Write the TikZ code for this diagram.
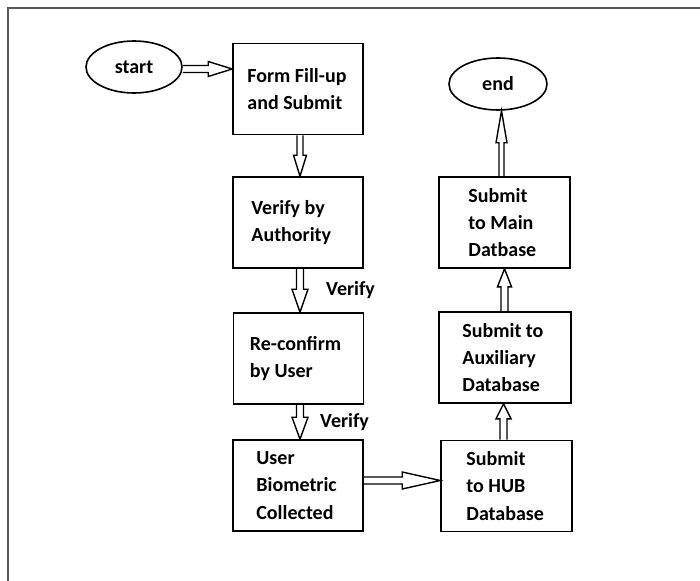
\documentclass[tikz,border=0pt]{standalone}
\usepackage{fontspec}
\setmainfont{Carlito}
\usetikzlibrary{calc,shapes.geometric}
\newcommand{\blockarr}[5]{% from, to, shaft half-width, head half-width, head length
  \path ($(#2)!#5!(#1)$) coordinate (hb);
  \draw[arrowline] ($(#1)!#3!90:(#2)$) -- ($(hb)!#3!90:(#2)$) -- ($(hb)!#4!90:(#2)$) -- (#2)
     -- ($(hb)!#4!-90:(#2)$) -- ($(hb)!#3!-90:(#2)$) -- ($(#1)!#3!-90:(#2)$);
}
\tikzset{
  box/.style={draw=black, line width=1.6pt, rectangle, minimum width=130pt, minimum height=91pt, inner sep=0pt},
  oval/.style={draw=black, line width=1.6pt, ellipse, minimum width=96pt, minimum height=52pt, inner sep=0pt, font=\fontsize{20}{27}\selectfont\bfseries},
  txt/.style={inner sep=0pt, align=left, font=\fontsize{20}{27.3}\selectfont\bfseries, text=black},
  arrowline/.style={draw=black, line width=1.4pt, line join=miter},
}
\begin{document}
\begin{tikzpicture}[x=1pt,y=-1pt]
\useasboundingbox (0,0) rectangle (700,580);
% frame
\draw[line width=2pt, draw=black!65] (8,581) -- (8,8) -- (701,8);

\node[oval] (start) at (134,67) {start};
\node[oval, minimum width=98pt] (end) at (498,84) {end};

\node[box, label={[txt,anchor=west,xshift=15pt]west:Form Fill-up\\and Submit}] (form) at (298,89) {};
\node[box, label={[txt,anchor=west,xshift=19pt]west:Verify by\\Authority}] (verify) at (298,222.5) {};
\node[box, label={[txt,anchor=west,xshift=17pt]west:Re-confirm\\by User}] (reconf) at (298.5,358.5) {};
\node[box, label={[txt,anchor=west,xshift=24pt]west:User\\Biometric\\Collected}] (bio) at (298,485.5) {};
\node[box, minimum width=131pt, label={[txt,anchor=west,xshift=26pt]west:Submit\\to HUB\\Database}] (hub) at (506.5,486) {};
\node[box, minimum width=132pt, label={[txt,anchor=west,xshift=24pt]west:Submit to\\Auxiliary\\Database}] (aux) at (505,357.5) {};
\node[box, minimum width=131pt, label={[txt,anchor=west,xshift=30pt]west:Submit\\to Main\\Datbase}] (main) at (504.5,222.5) {};

\node[txt, anchor=west] (v1) at (326,290) {Verify};
\node[txt, anchor=west] (v2) at (320,422) {Verify};

% connectors
\coordinate (a1s) at ($(start.east)+(0,2)$);
\coordinate (a1e) at (a1s -| form.west);
\blockarr{a1s}{a1e}{3.5pt}{7.5pt}{24pt}

\coordinate (a2s) at ($(form.south)+(2,0)$);
\coordinate (a2e) at ($(verify.north)+(2,0)$);
\blockarr{a2s}{a2e}{3pt}{6.5pt}{21pt}

\coordinate (a3s) at ($(verify.south)+(2,0)$);
\coordinate (a3e) at ($(reconf.north)+(1.5,0)$);
\blockarr{a3s}{a3e}{3.5pt}{8pt}{23pt}

\coordinate (a4s) at ($(reconf.south)+(1.5,0)$);
\coordinate (a4e) at ($(bio.north)+(2,0)$);
\blockarr{a4s}{a4e}{3.5pt}{8pt}{22pt}

\coordinate (a5s) at ($(bio.east)+(0,-5)$);
\coordinate (a5e) at (a5s -| hub.west);
\blockarr{a5s}{a5e}{3.5pt}{8.5pt}{38pt}

\coordinate (a6s) at ($(hub.north)+(-3,0)$);
\coordinate (a6e) at (a6s |- aux.south);
\blockarr{a6s}{a6e}{3.5pt}{7.5pt}{15pt}

\coordinate (a7s) at ($(aux.north)+(-0.5,0)$);
\coordinate (a7e) at (a7s |- main.south);
\blockarr{a7s}{a7e}{3.5pt}{7pt}{18pt}

\coordinate (a8s) at ($(main.north)+(-3,0)$);
\coordinate (a8e) at (a8s |- end.south);
\blockarr{a8s}{a8e}{2.5pt}{5.5pt}{32pt}
\end{tikzpicture}
\end{document}
